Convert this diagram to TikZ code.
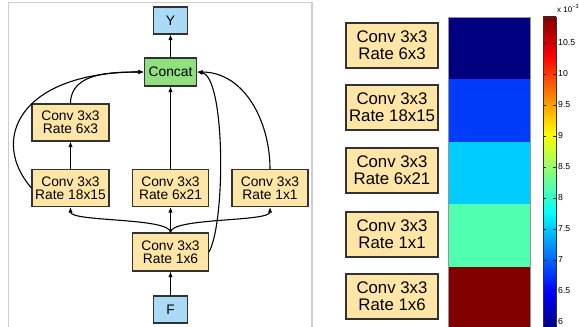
\documentclass[tikz,border=0pt]{standalone}
\usepackage{fontspec}
\setmainfont{Liberation Sans}
\usetikzlibrary{arrows.meta}
\definecolor{boxfill}{RGB}{255,230,166}
\definecolor{concatfill}{RGB}{144,224,128}
\definecolor{iofill}{RGB}{170,218,246}
\definecolor{boxline}{RGB}{50,50,50}
\definecolor{framegray}{RGB}{205,205,205}
\definecolor{colgray}{RGB}{150,150,150}
\definecolor{jA}{RGB}{0,0,128}
\definecolor{jB}{RGB}{0,0,255}
\definecolor{jC}{RGB}{0,255,255}
\definecolor{jD}{RGB}{255,255,0}
\definecolor{jE}{RGB}{255,0,0}
\definecolor{jF}{RGB}{128,0,0}
\definecolor{segA}{RGB}{0,0,128}
\definecolor{segB}{RGB}{0,60,250}
\definecolor{segC}{RGB}{0,204,255}
\definecolor{segD}{RGB}{80,255,176}
\definecolor{segE}{RGB}{128,0,0}
\begin{document}
\begin{tikzpicture}[x=1pt,y=1pt,
  lbox/.style={draw=boxline, line width=1.1pt, fill=boxfill, inner sep=0pt, align=center,
    minimum width=77pt, minimum height=37pt, font=\fontsize{13.8}{13.4}\selectfont},
  iobox/.style={lbox, fill=iofill, minimum width=34pt, minimum height=27pt},
  catbox/.style={lbox, fill=concatfill, minimum width=52pt, minimum height=28pt},
  rbox/.style={draw=boxline, line width=1.1pt, fill=boxfill, inner sep=0pt, align=center,
    minimum width=92pt, minimum height=45pt, font=\fontsize{16.8}{16.7}\selectfont},
  arr/.style={-{Latex[length=5.5pt,width=4.5pt]}, line width=1.1pt, black},
  ticklab/.style={anchor=west, inner sep=0pt, font=\fontsize{8.7}{9}\selectfont}
]
\useasboundingbox (0,0) rectangle (579,327);
% left frame
\draw[framegray, line width=1.2pt] (8.5,-5) -- (8.5,324.5) -- (312,324.5) -- (312,-5);

% left nodes
\node[iobox] (Y) at (170.5,306.5) {Y};
\node[catbox] (cat) at (170.5,255) {Concat};
\node[lbox] (c63) at (70.5,204.5) {Conv 3x3\\Rate 6x3};
\node[lbox] (c1815) at (70.5,139) {Conv 3x3\\Rate 18x15};
\node[lbox, minimum width=76pt] (c621) at (170.5,139) {Conv 3x3\\Rate 6x21};
\node[lbox, minimum width=76pt] (c11) at (270,139) {Conv 3x3\\Rate 1x1};
\node[lbox, minimum width=76pt, minimum height=38pt] (c16) at (170.5,75) {Conv 3x3\\Rate 1x6};
\node[iobox] (F) at (170.5,17.5) {F};

% connectors
\draw[arr] (F.north) -- (c16.south);
\draw[arr] (c16.north) -- (c621.south);
\draw[arr] (c16.north) .. controls +(0,15) and +(0,-15) .. (c1815.south);
\draw[arr] (c16.north) .. controls +(0,15) and +(0,-15) .. (c11.south);
\draw[arr] (c1815.north) -- (c63.south);
\draw[arr] (c63.north) to[out=90,in=180] (cat.west);
\draw[arr] (c1815.west) .. controls +(-42,48) and +(-125,0) .. (cat.west);
\draw[arr] (c16.east) .. controls +(17,32) and +(28,-4) .. (cat.east);
\draw[arr] (c11.north) to[out=90,in=0] (cat.east);
\draw[arr] (c621.north) -- (cat.south);
\draw[arr] (cat.north) -- (Y.south);

% right boxes
\node[rbox] (r1) at (392,281.5) {Conv 3x3\\Rate 6x3};
\node[rbox] (r2) at (392,219.5) {Conv 3x3\\Rate 18x15};
\node[rbox] (r3) at (392,156.5) {Conv 3x3\\Rate 6x21};
\node[rbox] (r4) at (392,92.5) {Conv 3x3\\Rate 1x1};
\node[rbox] (r5) at (392,30.5) {Conv 3x3\\Rate 1x6};

% colored column
\fill[segA] (448,247.5) rectangle (530,310);
\fill[segB] (448,185) rectangle (530,247.5);
\fill[segC] (448,122.5) rectangle (530,185);
\fill[segD] (448,60) rectangle (530,122.5);
\fill[segE] (448,-3) rectangle (530,60);
\draw[colgray, line width=0.9pt] (448,-5) -- (448,310) -- (530,310) -- (530,-5);

% colorbar (jet)
\shade[bottom color=jA, top color=jB] (543,-3) rectangle (556,36.2);
\shade[bottom color=jB, top color=jC] (543,36) rectangle (556,114.6);
\shade[bottom color=jC, top color=jD] (543,114.4) rectangle (556,192.8);
\shade[bottom color=jD, top color=jE] (543,192.6) rectangle (556,271.1);
\shade[bottom color=jE, top color=jF] (543,270.9) rectangle (556,310);
\draw[black!80, line width=0.6pt] (543,-5) -- (543,310) -- (556,310) -- (556,-5);
\foreach \v/\lab in {6/6, 6.5/6.5, 7/7, 7.5/7.5, 8/8, 8.5/8.5, 9/9, 9.5/9.5, 10/10, 10.5/10.5} {
  \pgfmathsetmacro{\yy}{5+(\v-6)*62}
  \draw[black!85, line width=0.6pt] (543,\yy) -- (546,\yy) (553,\yy) -- (556,\yy);
  \node[ticklab] (t\lab) at (558,\yy) {\lab};
}
\node[anchor=base west, inner sep=0pt, font=\fontsize{8}{9}\selectfont] (mult) at (557,314)
  {x 10\raisebox{4pt}{\fontsize{5.5}{6}\selectfont −3}};
\end{tikzpicture}
\end{document}
